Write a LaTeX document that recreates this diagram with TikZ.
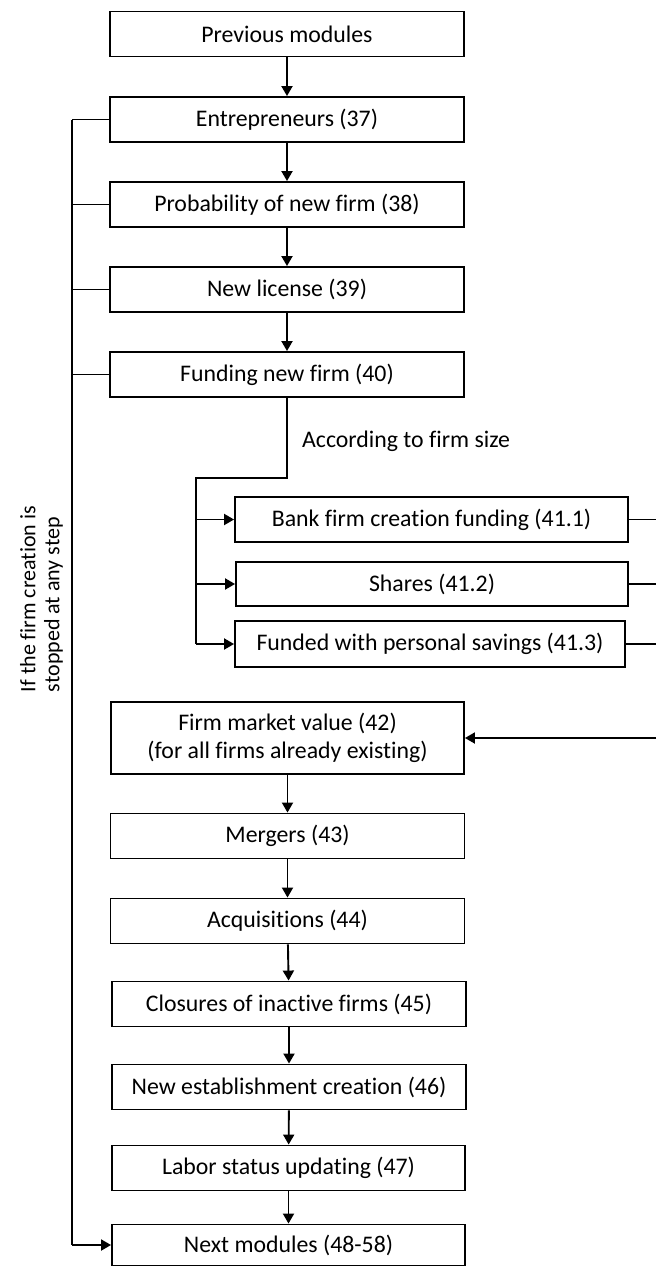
\documentclass[tikz,border=0pt]{standalone}
\usepackage{fontspec}
\setmainfont{Carlito}[Ligatures={NoCommon}]
\usetikzlibrary{arrows.meta}
\begin{document}
\begin{tikzpicture}[x=1pt,y=-1pt,
  box/.style={draw, line width=1.9pt, minimum width=354pt, minimum height=45pt,
    inner sep=0pt, align=center, font=\fontsize{23.8}{28}\selectfont},
  link/.style={line width=1.9pt},
  heavy/.style={line width=2.8pt},
  tip/.style={-{Triangle[length=10pt,width=11pt]}}]
\useasboundingbox (0,0) rectangle (656,1266);
\fill[white] (0,0) rectangle (656,1266);

% main chain of modules
\node[box] (prev) at (287,34) {Previous modules};
\node[box] (ent)  at (287,119.5) {Entrepreneurs (37)};
\node[box] (prob) at (287,204.5) {Probability of new firm (38)};
\node[box] (lic)  at (287,289.5) {New license (39)};
\node[box] (fund) at (287,374.5) {Funding new firm (40)};

% funding alternatives
\node[box, minimum width=393pt] (bank)   at (431.5,519.5) {Bank firm creation funding (41.1)};
\node[box, minimum width=392pt, minimum height=44pt] (shares) at (432,584) {Shares (41.2)};
\node[box, minimum width=390pt, minimum height=46pt] (sav)    at (430,644) {Funded with personal savings (41.3)};

% firm dynamics
\node[box, minimum width=353pt, minimum height=72pt] (fmv) at (287.5,738)
  {Firm market value (42)\\(for all firms already existing)};
\node[box] (merg)  at (287.5,836) {Mergers (43)};
\node[box] (acq)   at (287.5,921) {Acquisitions (44)};
\node[box] (clos)  at (289,1004) {Closures of inactive firms (45)};
\node[box] (newe)  at (289,1087) {New establishment creation (46)};
\node[box, minimum width=353pt] (labor) at (288.5,1168) {Labor status updating (47)};
\node[box, minimum width=353pt, minimum height=41pt] (next) at (288.5,1245) {Next modules (48-58)};

% downward flow
\draw[link,tip] (prev) -- (ent);
\draw[link,tip] (ent) -- (prob);
\draw[link,tip] (prob) -- (lic);
\draw[link,tip] (lic) -- (fund);
\draw[link,tip] (fmv) -- (merg);
\draw[link,tip] (merg) -- (acq);
\draw[link,tip] (acq) -- (clos);
\draw[link,tip] (clos) -- (newe);
\draw[link,tip] (newe) -- (labor);
\draw[link,tip] (labor) -- (next);

% branch by firm size
\coordinate (fk) at (196,478);
\draw[heavy] (fund.south) |- (fk) -- (fk |- sav.west);
\draw[link,tip] (fk |- bank.west) -- (bank.west);
\draw[link,tip] (fk |- shares.west) -- (shares.west);
\draw[link,tip] (fk |- sav.west) -- (sav.west);
\node[anchor=west, inner sep=0pt, font=\fontsize{23.8}{28}\selectfont] (size) at (302,441) {According to firm size};

% outputs of the funding alternatives
\coordinate (re) at (656,0);
\draw[link] (bank.east) -- (bank.east -| re);
\draw[link] (shares.east) -- (shares.east -| re);
\draw[link] (sav.east) -- (sav.east -| re);
\draw[link,tip] (fmv.east -| re) -- (fmv.east);

% exit when firm creation stops
\coordinate (lt) at (72,119.5);
\draw[link] (ent.west) -- (lt);
\draw[link] (prob.west) -- (prob.west -| lt);
\draw[link] (lic.west) -- (lic.west -| lt);
\draw[link] (fund.west) -- (fund.west -| lt);
\draw[heavy] (lt) -- (lt |- next.west);
\draw[link,tip] (lt |- next.west) -- (next.west);
\node[rotate=90, align=left, inner sep=0pt, font=\fontsize{22}{24}\selectfont] (stop) at (41.5,599)
  {If the firm creation is\\stopped at any step};
\end{tikzpicture}
\end{document}
